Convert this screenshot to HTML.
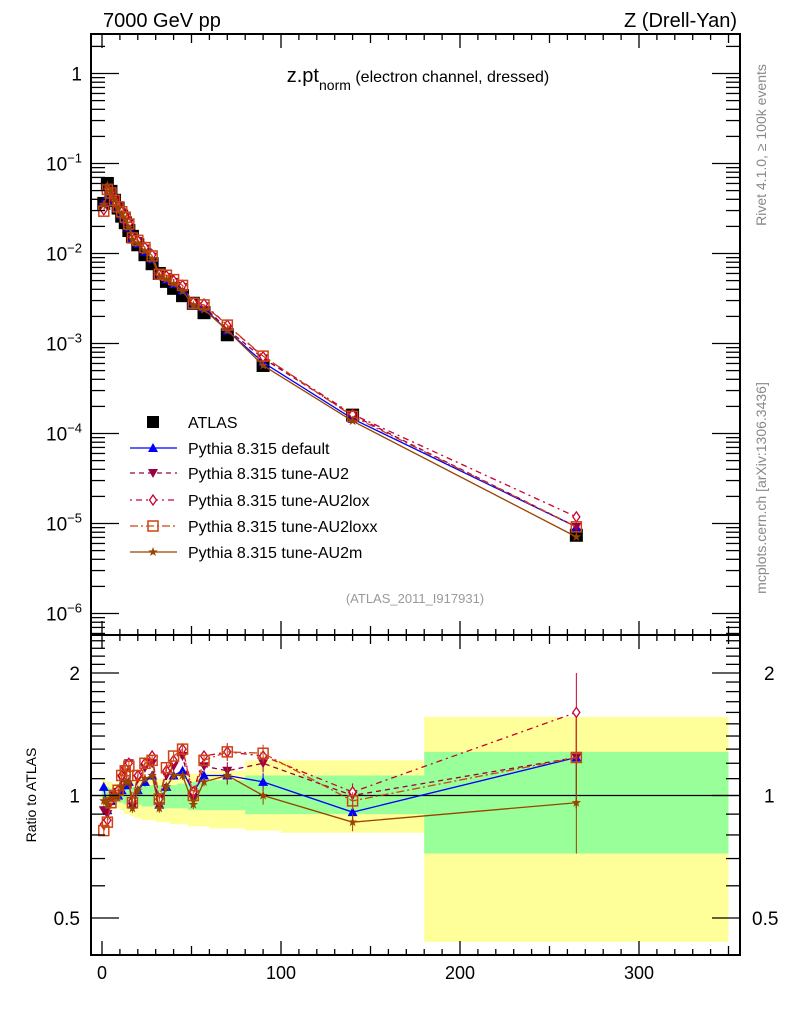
<!DOCTYPE html>
<html><head><meta charset="utf-8"><style>
body{margin:0;background:#fff;}
svg{display:block;font-family:"Liberation Sans",sans-serif;}
</style></head><body>
<svg id="c" width="786" height="1024" viewBox="0 0 786 1024" xmlns="http://www.w3.org/2000/svg">
<text x="103" y="27" font-size="20">7000 GeV pp</text>
<text x="737" y="27" font-size="20" text-anchor="end">Z (Drell-Yan)</text>
<text x="418" y="82" font-size="20" text-anchor="middle">z.pt<tspan font-size="14" dy="8">norm</tspan><tspan font-size="16" dy="-8"> (electron channel, dressed)</tspan></text>
<text x="415" y="603" font-size="13" fill="#999" text-anchor="middle">(ATLAS_2011_I917931)</text>
<text transform="translate(766,145) rotate(-90)" font-size="14" fill="#888" text-anchor="middle">Rivet 4.1.0, ≥ 100k events</text>
<text transform="translate(766,488) rotate(-90)" font-size="14" fill="#888" text-anchor="middle">mcplots.cern.ch [arXiv:1306.3436]</text>
<text transform="translate(36,795) rotate(-90)" font-size="14" text-anchor="middle">Ratio to ATLAS</text>
<g id="g"></g>
</svg>
<script>
const centers=[1,3,5,7,9,11,13,15,17,20,24,28,32,36,40,45,51,57,70,90,140,265];
const edges=[0,2,4,6,8,10,12,14,16,18,22,26,30,34,38,42,48,54,60,80,100,180,350];
const atlas=[0.036,0.06,0.049,0.039,0.032,0.026,0.022,0.018,0.0155,0.0125,0.0097,0.0077,0.006,0.0049,0.0041,0.0034,0.0028,0.0022,0.00125,0.00057,0.00016,0.0000074];
const rDefault=[1.05,0.92,0.97,1.0,1.0,1.03,1.06,1.08,0.95,1.03,1.08,1.12,0.95,1.05,1.12,1.15,1.02,1.12,1.12,1.08,0.91,1.24];
const rAU2=[0.92,0.9,0.96,1.0,1.02,1.1,1.15,1.2,0.94,1.1,1.17,1.2,0.94,1.12,1.18,1.25,0.98,1.18,1.15,1.2,1.0,1.24];
const rAU2lox=[0.85,0.87,0.97,1.0,1.03,1.12,1.17,1.2,0.97,1.12,1.2,1.25,0.98,1.15,1.22,1.3,1.02,1.25,1.28,1.25,1.02,1.6];
const rAU2loxx=[0.82,0.86,0.96,1.0,1.03,1.12,1.15,1.18,0.96,1.12,1.2,1.22,0.98,1.17,1.25,1.3,1.0,1.22,1.28,1.27,0.97,1.24];
const rAU2m=[0.97,0.95,0.98,1.0,1.0,1.05,1.08,1.08,0.93,1.03,1.1,1.12,0.93,1.05,1.12,1.12,0.95,1.08,1.12,1.0,0.86,0.96];
const yellowUp=[1.1,1.08,1.08,1.07,1.07,1.07,1.08,1.08,1.08,1.09,1.1,1.1,1.1,1.1,1.1,1.12,1.13,1.14,1.15,1.22,1.22,1.56];
const yellowDn=[0.92,0.92,0.92,0.93,0.93,0.92,0.9,0.9,0.89,0.88,0.87,0.87,0.86,0.86,0.85,0.85,0.84,0.84,0.83,0.82,0.81,0.437];
const greenUp=[1.05,1.05,1.04,1.04,1.04,1.04,1.05,1.05,1.05,1.05,1.06,1.06,1.06,1.06,1.06,1.07,1.08,1.08,1.09,1.12,1.12,1.28];
const greenDn=[0.95,0.95,0.96,0.96,0.96,0.96,0.95,0.95,0.95,0.95,0.94,0.94,0.94,0.93,0.93,0.93,0.92,0.92,0.92,0.9,0.9,0.72];
const xTicks=[0,100,200,300];
const L=91,R=740,T=34,MB=635,RB=955;
const X=v=>102+1.79*v;
const Y=v=>73.5-90*Math.log10(v);
const RY=v=>795.5-407*Math.log10(v);
const g=document.getElementById('g');
const NS='http://www.w3.org/2000/svg';
function el(t,a,p){const e=document.createElementNS(NS,t);for(const k in a)e.setAttribute(k,a[k]);(p||g).appendChild(e);return e;}
const bands=el('g',{});


for(let i=0;i<centers.length;i++){
 const x0=X(edges[i]),x1=X(edges[i+1]);
 const yb=el('rect',{x:x0,y:RY(yellowUp[i]),width:x1-x0,height:RY(yellowDn[i])-RY(yellowUp[i]),fill:'#ffff99'},bands);
 
 
}
for(let i=0;i<centers.length;i++){
 const x0=X(edges[i]),x1=X(edges[i+1]);
 const gb=el('rect',{x:x0,y:RY(greenUp[i]),width:x1-x0,height:RY(greenDn[i])-RY(greenUp[i]),fill:'#99ff99'},bands);
 
 
}
el('line',{x1:L,x2:R,y1:RY(1),y2:RY(1),stroke:'#000','stroke-width':1.2});
const series=[
 {n:'pythia-default',r:rDefault,c:'#0000ff',d:'',m:'tri',label:'Pythia 8.315 default'},
 {n:'pythia-au2',r:rAU2,c:'#990044',d:'5,4',m:'tridown',label:'Pythia 8.315 tune-AU2'},
 {n:'pythia-au2lox',r:rAU2lox,c:'#cc0033',d:'2,4,6,4',m:'diamond',label:'Pythia 8.315 tune-AU2lox'},
 {n:'pythia-au2loxx',r:rAU2loxx,c:'#cc4411',d:'8,3,2,3',m:'square',label:'Pythia 8.315 tune-AU2loxx'},
 {n:'pythia-au2m',r:rAU2m,c:'#994400',d:'',m:'star',label:'Pythia 8.315 tune-AU2m'}
];
function marker(type,x,y,c,p,s){
 s=s||5;
 if(type==='tri')return el('path',{d:`M${x},${y-s} L${x+s},${y+s*0.8} L${x-s},${y+s*0.8}Z`,fill:c},p);
 if(type==='tridown')return el('path',{d:`M${x},${y+s} L${x+s},${y-s*0.8} L${x-s},${y-s*0.8}Z`,fill:c},p);
 if(type==='diamond')return el('path',{d:`M${x},${y-s} L${x+s*0.7},${y} L${x},${y+s} L${x-s*0.7},${y}Z`,fill:'#fff',stroke:c,'stroke-width':1.3},p);
 if(type==='square')return el('rect',{x:x-s,y:y-s,width:2*s,height:2*s,fill:'none',stroke:c,'stroke-width':1.5},p);
 if(type==='star'){let d='';for(let k=0;k<10;k++){const a=-Math.PI/2+k*Math.PI/5,rr=k%2?s*0.4:s;d+=(k?'L':'M')+(x+rr*Math.cos(a))+','+(y+rr*Math.sin(a));}return el('path',{d:d+'Z',fill:c},p);}
 if(type==='sq')return el('rect',{x:x-s,y:y-s,width:2*s,height:2*s,fill:c},p);
}
const ag=el('g',{});


for(let i=0;i<centers.length;i++){
 const m=marker('sq',X(centers[i]),Y(atlas[i]),'#000',ag,6.5);
 
 
}
series.forEach(s=>{
 const sg=el('g',{});
 
 
 const pm=centers.map((c,i)=>X(c)+','+Y(atlas[i]*s.r[i])).join(' ');
 el('polyline',{points:pm,fill:'none',stroke:s.c,'stroke-width':1.3,'stroke-dasharray':s.d},sg);
 const pr=centers.map((c,i)=>X(c)+','+RY(s.r[i])).join(' ');
 el('polyline',{points:pr,fill:'none',stroke:s.c,'stroke-width':1.3,'stroke-dasharray':s.d},sg);
 centers.forEach((c,i)=>{
  const err=i===21?0.25:(i>=18?0.05:0.025);
  el('line',{x1:X(c),x2:X(c),y1:RY(s.r[i]*(1+err)),y2:RY(s.r[i]*(1-err)),stroke:s.c,'stroke-width':1},sg);
  marker(s.m,X(c),Y(atlas[i]*s.r[i]),s.c,sg,5);
  marker(s.m,X(c),RY(s.r[i]),s.c,sg,5);
 });
});
el('rect',{x:L,y:T,width:R-L,height:MB-T,fill:'none',stroke:'#000','stroke-width':2});
el('rect',{x:L,y:MB,width:R-L,height:RB-MB,fill:'none',stroke:'#000','stroke-width':2});
for(let v=0;v<=350;v+=10){
 const big=v%100===0,len=big?14:(v%50===0?9:6);
 [[T,1],[MB,-1],[MB,1],[RB,-1]].forEach(([y0,dir])=>el('line',{x1:X(v),x2:X(v),y1:y0,y2:y0+dir*len,stroke:'#000','stroke-width':1.3}));
}
xTicks.forEach(v=>{const t=el('text',{x:X(v),y:979,'font-size':18,'text-anchor':'middle'});t.textContent=v;

});
for(let e=0;e>=-7;e--){
 for(let k=1;k<10;k++){
  const v=k*Math.pow(10,e),y=Y(v);if(y<T||y>MB)continue;
  const len=k===1?28:14;
  el('line',{x1:L,x2:L+len,y1:y,y2:y,stroke:'#000','stroke-width':1.3});
  el('line',{x1:R,x2:R-len,y1:y,y2:y,stroke:'#000','stroke-width':1.3});
 }
}
for(let e=0;e>=-6;e--){
 const t=el('text',{x:82,y:Y(Math.pow(10,e))+7,'font-size':19,'text-anchor':'end'});
 
 
 if(e===0)t.textContent='1';else{t.textContent='10';const s=el('tspan',{dy:-8,'font-size':13},t);s.textContent='\u2212'+(-e);}
}
[0.5,0.6,0.7,0.8,0.9,1,1.1,1.2,1.3,1.4,1.5,1.6,1.7,1.8,1.9,2,2.1,2.2,2.3,2.4].forEach(v=>{
 const y=RY(v),big=(v===0.5||v===1||v===2),len=big?28:14;
 el('line',{x1:L,x2:L+len,y1:y,y2:y,stroke:'#000','stroke-width':1.3});
 el('line',{x1:R,x2:R-len,y1:y,y2:y,stroke:'#000','stroke-width':1.3});
});
[['2',2],['1',1],['0.5',0.5]].forEach(([s,v])=>{
 const a=el('text',{x:80,y:RY(v)+7,'font-size':19,'text-anchor':'end'});a.textContent=s;
 
 
 const b=el('text',{x:s==='0.5'?752:764,y:RY(v)+7,'font-size':19});b.textContent=s;
 
 
});
const lg=el('g',{});


const ly=[422,448,473,500,526,552];
marker('sq',153,ly[0],'#000',lg,6);
const lt0=el('text',{x:188,y:ly[0]+6,'font-size':16},lg);lt0.textContent='ATLAS';
series.forEach((s,i)=>{
 const y=ly[i+1];
 el('line',{x1:130,x2:177,y1:y,y2:y,stroke:s.c,'stroke-width':1.3,'stroke-dasharray':s.d},lg);
 marker(s.m,153,y,s.c,lg,5);
 const t=el('text',{x:188,y:y+6,'font-size':16},lg);t.textContent=s.label;
 
 
});
</script>
</body></html>
